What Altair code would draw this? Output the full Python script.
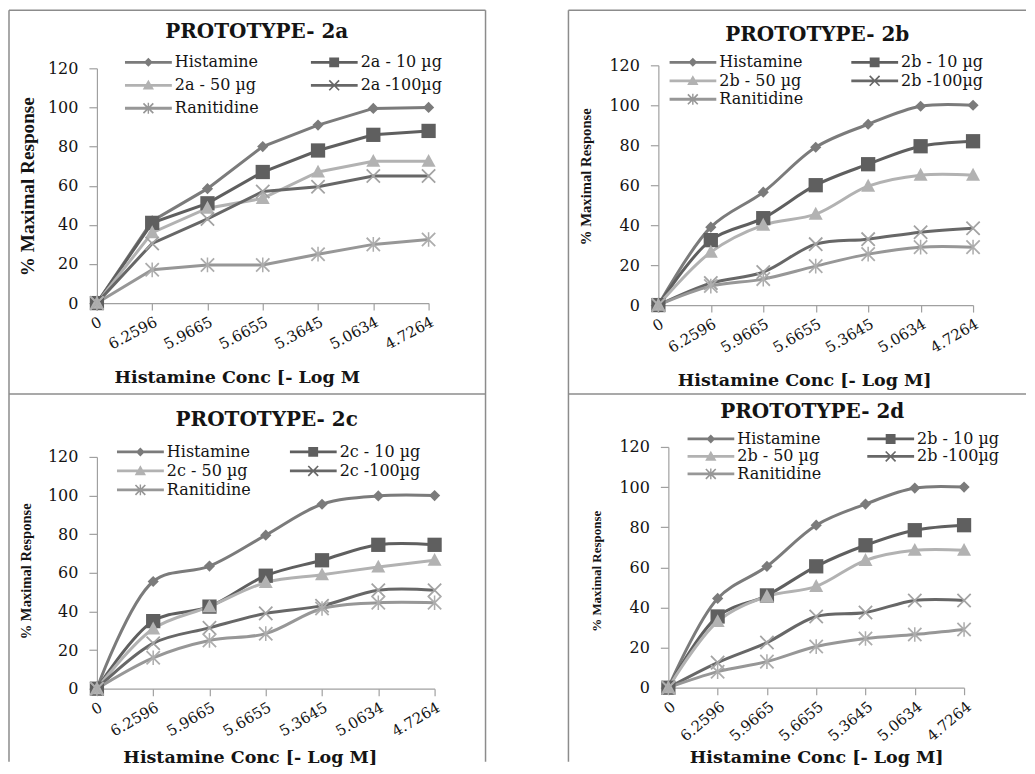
import altair as alt
import pandas as pd

X_LABELS = ["0", "6.2596", "5.9665", "5.6655", "5.3645", "5.0634", "4.7264"]
Y_TICKS = [0, 20, 40, 60, 80, 100, 120]
Y_TITLE = "% Maximal Response"

# ---- Panel 2a ----
A_TITLE = "PROTOTYPE- 2a"
A_XTITLE = "Histamine Conc [- Log M"
A_NAMES = ["Histamine", "2a - 10 µg", "2a  - 50 µg", "2a  -100µg", "Ranitidine"]
A_HIST = [0, 42, 58.5, 80, 91, 99.5, 100]
A_10 = [0, 41, 51, 67, 78, 86, 88]
A_50 = [0, 36, 48.5, 53.5, 67, 72.5, 72.5]
A_100 = [0, 30.5, 43, 57, 59.5, 65, 65]
A_RAN = [0, 17, 19.5, 19.5, 25, 30, 32.5]

# ---- Panel 2b ----
B_TITLE = "PROTOTYPE- 2b"
B_XTITLE = "Histamine Conc [- Log M]"
B_NAMES = ["Histamine", "2b - 10 µg", "2b - 50 µg", "2b -100µg", "Ranitidine"]
B_HIST = [0, 39, 56.5, 79, 90.5, 99.5, 100]
B_10 = [0, 32.5, 43.5, 60, 70.5, 79.5, 82]
B_50 = [0, 26.5, 40, 45.5, 59.5, 65, 65]
B_100 = [0, 11, 16.5, 30.5, 33, 36.5, 38.5]
B_RAN = [0, 9.5, 13, 19.5, 25.5, 29, 29]

# ---- Panel 2c ----
C_TITLE = "PROTOTYPE- 2c"
C_XTITLE = "Histamine Conc [- Log M]"
C_NAMES = ["Histamine", "2c - 10 µg", "2c - 50 µg", "2c -100µg", "Ranitidine"]
C_HIST = [0, 55.5, 63.5, 79.5, 95.5, 99.8, 100]
C_10 = [0, 35, 42.5, 58.5, 66.5, 74.5, 74.5]
C_50 = [0, 31, 42.5, 55, 59, 63, 66.5]
C_100 = [0, 23.5, 31.5, 39, 43, 51, 51]
C_RAN = [0, 16, 25, 28.5, 41.5, 44.5, 44.5]

# ---- Panel 2d ----
D_TITLE = "PROTOTYPE- 2d"
D_XTITLE = "Histamine Conc [- Log M]"
D_NAMES = ["Histamine", "2b - 10 µg", "2b - 50 µg", "2b -100µg", "Ranitidine"]
D_HIST = [0, 44.5, 60.5, 81, 91.5, 99.5, 100]
D_10 = [0, 35.5, 46, 60.5, 71, 78.5, 81]
D_50 = [0, 33, 45.5, 50.5, 63.5, 68.5, 68.5]
D_100 = [0, 12.5, 22.5, 35.5, 37.5, 43.5, 43.5]
D_RAN = [0, 8, 13, 20.5, 24.5, 26.5, 29]

LINE_COLORS = ["#7b7b7b", "#5f5f5f", "#b2b2b2", "#676767", "#979797"]
MARK_COLORS = ["#7b7b7b", "#5f5f5f", "#b2b2b2", "#a3a3a3", "#adadad"]
BORDER = "#8c8c8c"
AXIS_GRAY = "#a0a0a0"
TEXT = "#141414"


def fmt(v):
    s = f"{v:.3f}".rstrip("0").rstrip(".")
    return "0" if s in ("-0", "") else s


def poly(pts):
    return "M" + "L".join(f"{fmt(x)},{fmt(y)}" for x, y in pts) + "Z"


def diamond(h):
    return poly([(0, -h), (h, 0), (0, h), (-h, 0)])


def square(h):
    return poly([(-h, -h), (h, -h), (h, h), (-h, h)])


def triangle(w, top, bot):
    return poly([(0, -top), (w, bot), (-w, bot)])


def cross(a, d):
    return (poly([(-a + d, -a - d), (a + d, a - d), (a - d, a + d), (-a - d, -a + d)])
            + poly([(a - d, -a - d), (a + d, -a + d), (-a + d, a + d), (-a - d, a - d)]))


def star(a, d):
    return cross(a, d) + poly([(-d * 1.2, -a * 1.1), (d * 1.2, -a * 1.1), (d * 1.2, a * 1.1), (-d * 1.2, a * 1.1)])


def hbar(t):
    return poly([(-1, -t), (1, -t), (1, t), (-1, t)])


PT_SIZE = 196
PT_PATHS = [diamond(0.8), square(1.02), triangle(1.0, 1.05, 0.8), cross(0.95, 0.09), star(0.95, 0.09)]
LEG_SIZE = 2209
LEG_PATHS = [hbar(0.06) + diamond(0.19), hbar(0.06) + square(0.21),
             hbar(0.06) + triangle(0.24, 0.24, 0.18), hbar(0.06) + cross(0.21, 0.025),
             hbar(0.06) + star(0.21, 0.025)]


def panel(title, xtitle, names, series, interp, G):
    rows = []
    for name, vals in zip(names, series):
        for i, (lab, v) in enumerate(zip(X_LABELS, vals)):
            rows.append({"conc": lab, "idx": i, "resp": v, "series": name})
    df = pd.DataFrame(rows)

    xs = alt.Scale(type="point", domain=X_LABELS, range=[G["px0"], G["px1"]], padding=0)
    ys = alt.Scale(domain=[0, 120], range=[G["pyb"], G["pyt"]], nice=False, zero=False)
    xaxis = alt.Axis(orient="bottom", offset=G["pyb"] - G["h"], grid=False,
                     domainColor=AXIS_GRAY, domainWidth=1.2, tickColor=AXIS_GRAY, tickSize=7,
                     tickWidth=1.2, labelAngle=G["la"], labelAlign="right", labelBaseline="top",
                     labelFont="DejaVu Serif", labelFontSize=15, labelColor=TEXT, labelPadding=4,
                     labelOverlap=False, title=xtitle, titleFont="DejaVu Serif",
                     titleFontWeight="bold", titleFontSize=17.5, titleColor=TEXT,
                     titleX=G["xtx"], titleY=G["xty"] - G["pyb"], titleAlign="center",
                     titleBaseline="middle")
    yaxis = alt.Axis(orient="left", offset=-G["px0"], values=Y_TICKS, grid=False,
                     domainColor=AXIS_GRAY, domainWidth=1.2, tickColor=AXIS_GRAY, tickSize=8,
                     tickWidth=1.2, labelFont="DejaVu Serif", labelFontSize=16, labelColor=TEXT,
                     labelPadding=11, title=Y_TITLE, titleFont="Liberation Serif",
                     titleFontWeight="bold", titleFontSize=G["ytfs"], titleColor=TEXT,
                     titleAngle=270, titleX=G["ytx"] - G["px0"], titleY=G["yty"],
                     titleAlign="center", titleBaseline="middle")
    ex = alt.X("conc:N", scale=xs, axis=xaxis)
    ey = alt.Y("resp:Q", scale=ys, axis=yaxis)
    base = alt.Chart(df)
    lines = base.mark_line(strokeWidth=3, interpolate=interp).encode(
        x=ex, y=ey,
        color=alt.Color("series:N", scale=alt.Scale(domain=names, range=LINE_COLORS), legend=None),
        order=alt.Order("idx:Q"),
    )
    pts = base.mark_point(filled=True, opacity=1, strokeWidth=0, size=PT_SIZE).encode(
        x=ex, y=ey,
        shape=alt.Shape("series:N", scale=alt.Scale(domain=names, range=PT_PATHS), legend=None),
        fill=alt.Fill("series:N", scale=alt.Scale(domain=names, range=MARK_COLORS), legend=None),
    )
    leg_def = alt.Legend(title=None, orient="none", legendX=G["lx"], legendY=G["ly"], columns=2,
                         direction="horizontal", symbolSize=LEG_SIZE, symbolStrokeWidth=0,
                         symbolOpacity=1, labelFont="DejaVu Serif", labelFontSize=16,
                         labelColor=TEXT, labelOffset=3, columnPadding=G["cp"],
                         rowPadding=G["rp"], padding=0, labelLimit=0, clipHeight=17)
    leg = base.transform_filter("false").mark_point(filled=True, opacity=1, strokeWidth=0,
                                                     size=LEG_SIZE).encode(
        shape=alt.Shape("series:N", scale=alt.Scale(domain=names, range=LEG_PATHS), legend=leg_def),
        fill=alt.Fill("series:N", scale=alt.Scale(domain=names, range=LINE_COLORS), legend=leg_def),
    )
    ttl = alt.Chart(pd.DataFrame({"t": [title]})).mark_text(
        font="DejaVu Serif", fontWeight="bold", fontSize=G["tfs"], color=TEXT,
        align="center", baseline="middle").encode(
        x=alt.value(G["tx"]), y=alt.value(G["ty"]), text="t:N")
    borders = [alt.Chart(pd.DataFrame({"k": [0]})).mark_rule(color=BORDER, strokeWidth=1.5).encode(
        x=alt.value(a), y=alt.value(b), x2=alt.value(c), y2=alt.value(d)) for (a, b, c, d) in G["borders"]]
    return alt.layer(*borders, lines, pts, leg, ttl).resolve_scale(
        shape="independent", fill="independent").properties(width=G["w"], height=G["h"])


GA = dict(w=477, h=384, px0=88, px1=420, pyb=293, pyt=58, la=-28, xtx=228, xty=367,
          ytfs=19.2, ytx=19, yty=176, tfs=20, tx=248, ty=22, lx=116, ly=43.5, cp=49, rp=6,
          borders=[(0, 0, 477, 0), (0, 0, 0, 384), (477, 0, 477, 384), (0, 384, 477, 384)])
GB = dict(w=458, h=384, px0=90, px1=405, pyb=295, pyt=55, la=-30, xtx=236, xty=370,
          ytfs=14.7, ytx=18, yty=166, tfs=20, tx=249, ty=25, lx=101, ly=43.5, cp=47, rp=1.5,
          borders=[(0, 0, 458, 0), (0, 0, 0, 384), (0, 384, 458, 384)])
GC = dict(w=477, h=360, px0=88, px1=426, pyb=295, pyt=63, la=-30, xtx=241, xty=364,
          ytfs=14.6, ytx=18, yty=177, tfs=20, tx=258, ty=26, lx=108, ly=49.5, cp=38, rp=2,
          borders=[(0, 0, 0, 368), (477, 0, 477, 368)])
GD = dict(w=458, h=360, px0=100, px1=396, pyb=294, pyt=53, la=-40, xtx=248, xty=364,
          ytfs=13.0, ytx=28, yty=177, tfs=20, tx=244, ty=18, lx=119, ly=36.5, cp=45, rp=0.5,
          borders=[(0, 0, 0, 368)])

p_a = panel(A_TITLE, A_XTITLE, A_NAMES, [A_HIST, A_10, A_50, A_100, A_RAN], "linear", GA)
p_b = panel(B_TITLE, B_XTITLE, B_NAMES, [B_HIST, B_10, B_50, B_100, B_RAN], "catmull-rom", GB)
p_c = panel(C_TITLE, C_XTITLE, C_NAMES, [C_HIST, C_10, C_50, C_100, C_RAN], "catmull-rom", GC)
p_d = panel(D_TITLE, D_XTITLE, D_NAMES, [D_HIST, D_10, D_50, D_100, D_RAN], "catmull-rom", GD)

chart = alt.concat(p_a, p_b, p_c, p_d, columns=2, spacing={"row": 0, "column": 83},
                   bounds="flush", align="each").resolve_scale(
    color="independent", fill="independent", shape="independent"
).resolve_legend(
    color="independent", fill="independent", shape="independent"
).properties(
    padding={"left": 0, "top": 1, "right": 0, "bottom": 0}, background="white"
).configure_view(stroke=None)

chart.save("out.html", embed_options={"renderer": "svg", "actions": False})
